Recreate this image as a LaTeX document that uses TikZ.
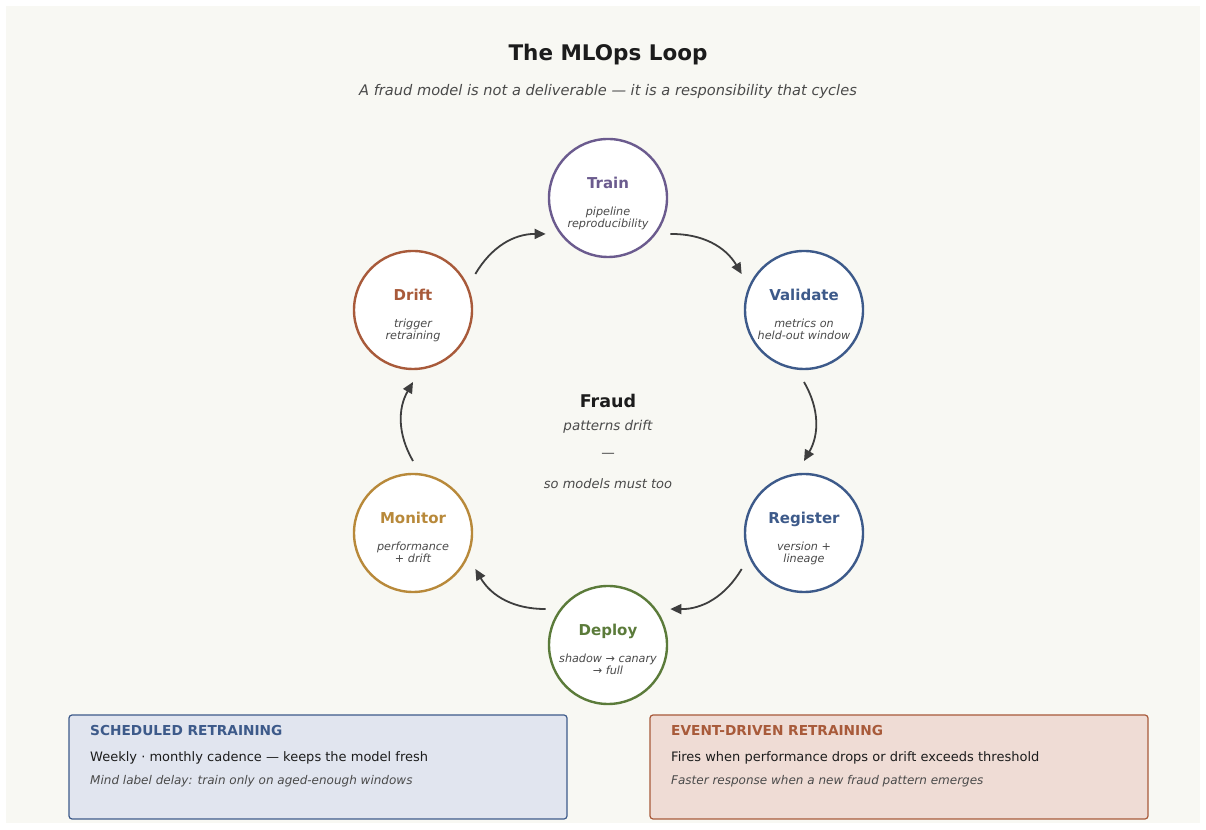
\documentclass[tikz,border=0pt]{standalone}
\usepackage{fontspec}
\setmainfont{DejaVu Sans}
\usetikzlibrary{arrows.meta}
\definecolor{paper}{HTML}{F8F8F3}
\definecolor{ink}{HTML}{1C1C1C}
\definecolor{note}{HTML}{4A4A4A}
\definecolor{arrowgrey}{HTML}{3E3E3E}
\definecolor{trainc}{HTML}{6B5B8E}
\definecolor{bluec}{HTML}{3D5A8A}
\definecolor{deployc}{HTML}{5B7B3A}
\definecolor{monitorc}{HTML}{B8893A}
\definecolor{rustc}{HTML}{A85A3A}
\definecolor{bluefill}{HTML}{E1E5EF}
\definecolor{rustfill}{HTML}{EFDCD5}
\begin{document}
\begin{tikzpicture}[x=1pt, y=1pt,
  stage/.style={circle, draw=#1, line width=2.4pt, fill=white, minimum size=118pt, inner sep=0pt, outer sep=13pt},
  stagename/.style={anchor=base, inner sep=0pt, text=#1, font=\bfseries\fontsize{15}{18}\selectfont},
  stagenote/.style={anchor=base, inner sep=0pt, align=center, text=note, font=\itshape\fontsize{11.2}{11.6}\selectfont},
  flow/.style={draw=arrowgrey, line width=1.8pt, -{Triangle[length=11pt,width=10pt]}},
  panel/.style 2 args={draw=#1, fill=#2, line width=1.2pt, rounded corners=3pt, minimum width=498pt, minimum height=104pt},
  panelhead/.style={anchor=base west, inner sep=0pt, text=#1, font=\bfseries\fontsize{13.7}{16}\selectfont},
  paneltext/.style={anchor=base west, inner sep=0pt, text=ink, font=\fontsize{13}{16}\selectfont},
  panelnote/.style={anchor=base west, inner sep=0pt, text=note, font=\itshape\fontsize{12}{14}\selectfont}]
  \useasboundingbox (0,0) rectangle (1206,829);
  \fill[white] (0,0) rectangle (1206,829);
  \fill[paper] (6,6) rectangle (1200,823);

  % title
  \node[anchor=base, inner sep=0pt, text=ink, font=\bfseries\fontsize{21.5}{26}\selectfont] (title) at (608,768.6) {The MLOps Loop};
  \node[anchor=base, inner sep=0pt, text=note, font=\itshape\fontsize{14.6}{17}\selectfont] (subtitle) at (608,733) {A fraud model is not a deliverable — it is a responsibility that cycles};

  % the six stages
  \node[stage=trainc] (train) at (608,631) {};
  \node[stage=bluec] (validate) at (804,519) {};
  \node[stage=bluec] (register) at (804,296) {};
  \node[stage=deployc] (deploy) at (608,184) {};
  \node[stage=monitorc] (monitor) at (413,296) {};
  \node[stage=rustc] (drift) at (413,519) {};

  \node[stagename=trainc] (train-name) at ([yshift=9]train.center) {Train};
  \node[stagenote] (train-note) at ([yshift=-29.5]train.center) {pipeline\\reproducibility};
  \node[stagename=bluec] (validate-name) at ([yshift=9]validate.center) {Validate};
  \node[stagenote] (validate-note) at ([yshift=-29.5]validate.center) {metrics on\\held-out window};
  \node[stagename=bluec] (register-name) at ([yshift=9]register.center) {Register};
  \node[stagenote] (register-note) at ([yshift=-29.5]register.center) {version +\\lineage};
  \node[stagename=deployc] (deploy-name) at ([yshift=9]deploy.center) {Deploy};
  \node[stagenote] (deploy-note) at ([yshift=-29.5]deploy.center) {shadow → canary\\→ full};
  \node[stagename=monitorc] (monitor-name) at ([yshift=9]monitor.center) {Monitor};
  \node[stagenote] (monitor-note) at ([yshift=-29.5]monitor.center) {performance\\+ drift};
  \node[stagename=rustc] (drift-name) at ([yshift=9]drift.center) {Drift};
  \node[stagenote] (drift-note) at ([yshift=-29.5]drift.center) {trigger\\retraining};

  \draw[flow] (train.-30) to[bend left=30] (validate.150);
  \draw[flow] (validate.-90) to[bend left=30] (register.90);
  \draw[flow] (register.-150) to[bend left=30] (deploy.30);
  \draw[flow] (deploy.150) to[bend left=30] (monitor.-30);
  \draw[flow] (monitor.90) to[bend left=30] (drift.-90);
  \draw[flow] (drift.30) to[bend left=30] (train.-150);

  % centre text
  \node[anchor=base, inner sep=0pt, text=ink, font=\bfseries\fontsize{17.5}{21}\selectfont] (fraud) at (608,421.7) {Fraud};
  \node[anchor=base, inner sep=0pt, text=note, font=\itshape\fontsize{13.5}{16}\selectfont] (patterns) at (608,398.3) {patterns drift};
  \node[anchor=base, inner sep=0pt, text=note, font=\fontsize{13.5}{16}\selectfont] (dash) at (608,371) {—};
  \node[anchor=base, inner sep=0pt, text=note, font=\itshape\fontsize{13}{16}\selectfont] (must) at (608,340.7) {so models must too};

  % the two ways to retrain
  \node[panel={bluec}{bluefill}] (scheduled) at (318,62) {};
  \node[panelhead=bluec] (scheduled-head) at (90,93.3) {SCHEDULED RETRAINING};
  \node[paneltext] (scheduled-text) at (90,67.3) {Weekly · monthly cadence — keeps the model fresh};
  \node[panelnote] (scheduled-note) at (90,44) {Mind label delay: train only on aged-enough windows};

  \node[panel={rustc}{rustfill}] (event) at (899,62) {};
  \node[panelhead=rustc] (event-head) at (671,93.3) {EVENT-DRIVEN RETRAINING};
  \node[paneltext] (event-text) at (671,67.3) {Fires when performance drops or drift exceeds threshold};
  \node[panelnote] (event-note) at (671,44) {Faster response when a new fraud pattern emerges};
\end{tikzpicture}
\end{document}
